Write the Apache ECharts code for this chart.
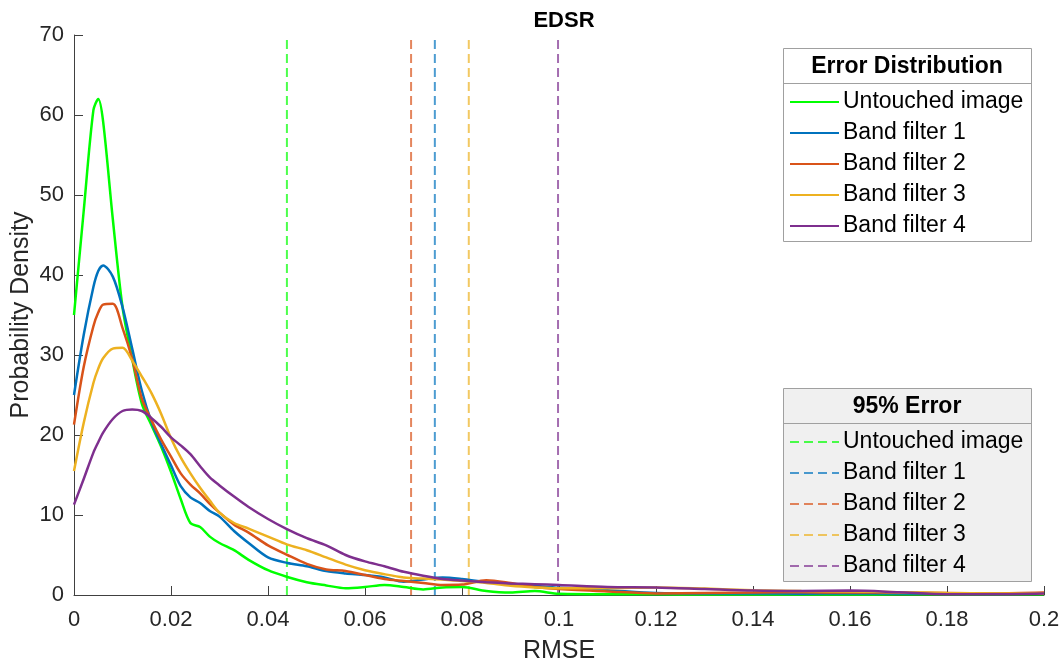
<!DOCTYPE html>
<html>
<head>
<meta charset="utf-8">
<script src="https://cdn.jsdelivr.net/npm/echarts@6/dist/echarts.min.js"></script>
<style>
  html, body { margin: 0; padding: 0; background: #fff; }
  #chart { width: 1064px; height: 668px; }
</style>
</head>
<body>
<div id="chart"></div>
<script>
// RMSE sample positions shared by all density curves
const rmse = [0, 0.002, 0.004, 0.005, 0.006, 0.008, 0.010, 0.012, 0.014, 0.016, 0.018, 0.020, 0.022, 0.024, 0.026, 0.028, 0.030, 0.033, 0.036, 0.040, 0.044, 0.048, 0.052, 0.056, 0.060, 0.064, 0.068, 0.072, 0.076, 0.080, 0.085, 0.090, 0.095, 0.100, 0.110, 0.120, 0.130, 0.140, 0.150, 0.160, 0.170, 0.180, 0.190, 0.200];

// Probability density of the error for each input
const untouched = [35, 48, 60.6, 62, 59.2, 47, 36, 29.5, 23.9, 21.2, 18.5, 15.4, 12, 9.0, 8.5, 7.3, 6.5, 5.6, 4.4, 3.1, 2.25, 1.6, 1.2, 0.85, 1.0, 1.25, 1.0, 0.7, 0.95, 1.0, 0.5, 0.3, 0.5, 0.15, 0.1, 0.1, 0.05, 0.05, 0.05, 0.05, 0.1, 0.1, 0.1, 0.1];
const band1 = [25, 32.5, 38.5, 40.5, 41.2, 39.8, 36, 30.8, 25.5, 21.6, 18.8, 16.2, 13.6, 12.2, 11.5, 10.5, 9.8, 8.0, 6.5, 4.7, 4.0, 3.6, 3.0, 2.7, 2.5, 2.2, 1.65, 1.95, 2.2, 2.0, 1.6, 1.4, 1.15, 0.9, 0.6, 0.25, 0.2, 0.2, 0.15, 0.2, 0.2, 0.15, 0.15, 0.15];
const band2 = [21.3, 28.5, 33.6, 35.3, 36.3, 36.4, 33.4, 29.5, 24.5, 21.8, 19.4, 17.3, 15.2, 13.8, 12.7, 11.4, 10.3, 8.8, 7.8, 6.2, 5.0, 3.9, 3.2, 3.0, 2.5, 2.0, 1.75, 1.5, 1.25, 1.3, 1.85, 1.5, 1.0, 0.75, 0.45, 0.2, 0.25, 0.3, 0.35, 0.3, 0.3, 0.25, 0.2, 0.3];
const band3 = [15.5, 21.5, 26.5, 28.3, 29.6, 30.8, 30.9, 29.3, 27.3, 25.2, 22.6, 19.6, 17.2, 15.2, 13.4, 11.8, 10.3, 9.0, 8.3, 7.3, 6.3, 5.6, 4.7, 3.8, 3.1, 2.6, 2.2, 2.05, 1.95, 1.75, 1.5, 1.15, 0.95, 0.85, 0.85, 0.95, 0.8, 0.6, 0.5, 0.45, 0.35, 0.25, 0.2, 0.15];
const band4 = [11.3, 14.5, 17.8, 19.1, 20.3, 22.0, 23.0, 23.2, 23.0, 22.1, 21.0, 19.7, 18.7, 17.6, 16.1, 14.7, 13.7, 12.3, 11.0, 9.5, 8.2, 7.1, 6.2, 5.0, 4.2, 3.6, 2.9, 2.4, 2.0, 1.8, 1.6, 1.45, 1.35, 1.25, 1.0, 0.95, 0.75, 0.55, 0.5, 0.55, 0.35, 0.1, 0.1, 0.2];

// 95th percentile of the error for each input
const error95 = [0.0439, 0.0744, 0.0695, 0.0814, 0.0998];

const names = ['Untouched image', 'Band filter 1', 'Band filter 2', 'Band filter 3', 'Band filter 4'];
const colors = ['#00ff00', '#0072bd', '#d95319', '#edb120', '#7e2f8e'];
const densities = [untouched, band1, band2, band3, band4];

const xTicks = [0, 0.02, 0.04, 0.06, 0.08, 0.1, 0.12, 0.14, 0.16, 0.18, 0.2];
const yTicks = [0, 10, 20, 30, 40, 50, 60, 70];

const PREFIX = '95% ';
const FONT = '"Liberation Sans", Arial, Helvetica, sans-serif';

const curveSeries = names.map((n, i) => ({
  name: n,
  type: 'line',
  data: rmse.map((x, k) => [x, densities[i][k]]),
  smooth: 0.3,
  symbol: 'none',
  lineStyle: { color: colors[i], width: 2.5 },
  itemStyle: { color: colors[i] },
  z: 3 + i
}));

const p95Series = names.map((n, i) => ({
  name: PREFIX + n,
  type: 'line',
  data: [[error95[i], yTicks[0]], [error95[i], yTicks[yTicks.length - 1]]],
  symbol: 'none',
  lineStyle: { color: colors[i], width: 2, type: [9, 5], opacity: 0.7 },
  itemStyle: { color: colors[i], opacity: 0.7 },
  z: 2
}));

const chart = echarts.init(document.getElementById('chart'), null, { renderer: 'canvas' });

const legendCommon = {
  orient: 'vertical',
  left: 789,
  itemWidth: 49,
  itemHeight: 14,
  itemGap: 7,
  selectedMode: false,
  padding: 0,
  z: 10,
  itemStyle: { opacity: 0 },
  textStyle: { fontFamily: FONT, fontSize: 23, color: '#000', lineHeight: 24, padding: [0, 0, 0, -1] }
};

chart.setOption({
  animation: false,
  backgroundColor: '#ffffff',
  title: {
    text: 'EDSR',
    left: 559,
    textAlign: 'center',
    top: 5,
    textStyle: { fontFamily: FONT, fontSize: 22, fontWeight: 'bold', color: '#000' }
  },
  grid: { left: 74, right: 20, top: 35, bottom: 73, containLabel: false, outerBoundsMode: 'none' },
  xAxis: {
    type: 'value',
    min: xTicks[0],
    max: xTicks[xTicks.length - 1],
    interval: 0.02,
    name: 'RMSE',
    nameLocation: 'middle',
    nameGap: 44,
    nameMoveOverlap: false,
    nameTextStyle: { fontFamily: FONT, fontSize: 25, color: '#262626' },
    axisLine: { show: true, lineStyle: { color: '#404040', width: 1 } },
    axisTick: { show: true, inside: true, length: 9, lineStyle: { color: '#404040' } },
    axisLabel: {
      fontFamily: FONT, fontSize: 22, color: '#262626', margin: 14,
      formatter: v => String(parseFloat(v.toFixed(4)))
    },
    splitLine: { show: false }
  },
  yAxis: {
    type: 'value',
    min: yTicks[0],
    max: yTicks[yTicks.length - 1],
    interval: 10,
    name: 'Probability Density',
    nameLocation: 'middle',
    nameGap: 40,
    nameMoveOverlap: false,
    nameTextStyle: { fontFamily: FONT, fontSize: 25, color: '#262626' },
    axisLine: { show: true, lineStyle: { color: '#404040', width: 1 } },
    axisTick: { show: true, inside: true, length: 9, lineStyle: { color: '#404040' } },
    axisLabel: { fontFamily: FONT, fontSize: 22, color: '#262626', margin: 10 },
    splitLine: { show: false }
  },
  legend: [
    Object.assign({}, legendCommon, { top: 90, data: names }),
    Object.assign({}, legendCommon, {
      top: 430,
      data: names.map(n => PREFIX + n),
      formatter: n => n.slice(PREFIX.length)
    })
  ],
  graphic: [
    {
      type: 'rect', z: 9,
      shape: { x: 783.5, y: 48.5, width: 248, height: 193 },
      style: { fill: '#ffffff', stroke: '#a0a0a0', lineWidth: 1 }
    },
    {
      type: 'line', z: 9,
      shape: { x1: 783.5, y1: 83.5, x2: 1031.5, y2: 83.5 },
      style: { stroke: '#a0a0a0', lineWidth: 1 }
    },
    {
      type: 'text', z: 10, x: 907, y: 67,
      style: { text: 'Error Distribution', font: 'bold 23px ' + FONT, fill: '#000', align: 'center', verticalAlign: 'middle' }
    },
    {
      type: 'rect', z: 9,
      shape: { x: 783.5, y: 388.5, width: 248, height: 193 },
      style: { fill: '#f0f0f0', stroke: '#a0a0a0', lineWidth: 1 }
    },
    {
      type: 'line', z: 9,
      shape: { x1: 783.5, y1: 423.5, x2: 1031.5, y2: 423.5 },
      style: { stroke: '#a0a0a0', lineWidth: 1 }
    },
    {
      type: 'text', z: 10, x: 907, y: 407,
      style: { text: '95% Error', font: 'bold 23px ' + FONT, fill: '#000', align: 'center', verticalAlign: 'middle' }
    }
  ],
  series: p95Series.concat(curveSeries)
});
</script>
</body>
</html>
